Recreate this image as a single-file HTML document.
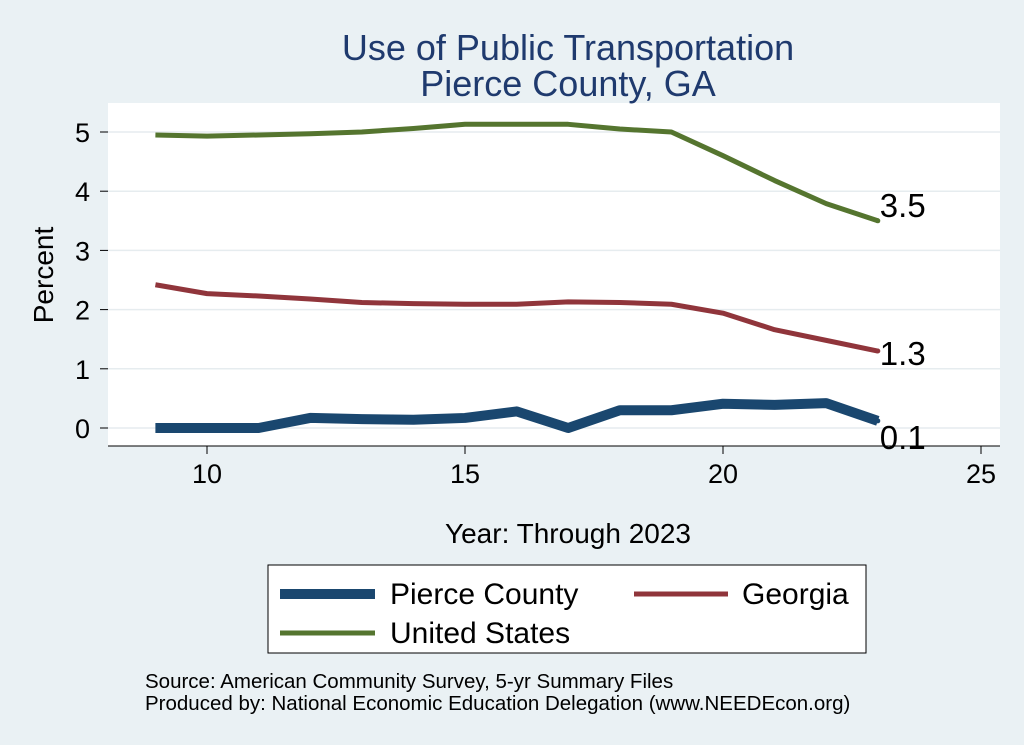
<!DOCTYPE html>
<html><head><meta charset="utf-8"><style>
body{margin:0;background:#eaf1f4;}
svg{display:block;font-family:"Liberation Sans",sans-serif;}
</style></head><body>
<svg width="1024" height="745" viewBox="0 0 1024 745">
<rect x="0" y="0" width="1024" height="745" fill="#eaf1f4"/>
<rect x="108" y="103" width="892" height="343" fill="#ffffff"/>
<text x="568" y="60" font-size="36" fill="#1f3a6e" text-anchor="middle">Use of Public Transportation</text>
<text x="568" y="96" font-size="36" fill="#1f3a6e" text-anchor="middle">Pierce County, GA</text>
<g id="grid"></g>
<g id="axes"></g>
<g id="series"></g>
<text x="53" y="275" font-size="28" fill="#000" text-anchor="middle" transform="rotate(-90 53 275)">Percent</text>
<text x="568" y="543" font-size="28" fill="#000" text-anchor="middle">Year: Through 2023</text>
<g>
<rect x="268" y="565" width="598" height="88" fill="#fff" stroke="#000" stroke-width="1"/>
<line x1="280" y1="594" x2="375" y2="594" stroke="#1a476f" stroke-width="10"/>
<text x="390" y="604" font-size="30">Pierce County</text>
<line x1="634" y1="594" x2="728" y2="594" stroke="#90353b" stroke-width="5"/>
<text x="742" y="604" font-size="30">Georgia</text>
<line x1="280" y1="633" x2="375" y2="633" stroke="#55752f" stroke-width="5"/>
<text x="390" y="643" font-size="30">United States</text>
</g>
<text x="145" y="688" font-size="20.5">Source: American Community Survey, 5-yr Summary Files</text>
<text x="145" y="710" font-size="20.5">Produced by: National Economic Education Delegation (www.NEEDEcon.org)</text>
</svg>
<script>
const years=[9,10,11,12,13,14,15,16,17,18,19,20,21,22,23];
const usVals=[4.95,4.93,4.95,4.97,5.0,5.06,5.13,5.13,5.13,5.05,5.0,4.6,4.18,3.79,3.5];
const gaVals=[2.42,2.27,2.23,2.18,2.12,2.10,2.09,2.09,2.13,2.12,2.09,1.94,1.66,1.48,1.3];
const pcVals=[0,0,0,0.17,0.15,0.14,0.17,0.28,0,0.3,0.3,0.41,0.39,0.42,0.12];
const yTicks=[0,1,2,3,4,5];
const xTicks=[10,15,20,25];
const endLabels=["0.1","1.3","3.5"];
const NS="http://www.w3.org/2000/svg";
const X=v=>207+(v-10)*51.6;
const Y=v=>428-v*59.2;
function mk(t,a,p){const e=document.createElementNS(NS,t);for(const k in a)e.setAttribute(k,a[k]);p.appendChild(e);return e;}
const grid=document.getElementById('grid'),axes=document.getElementById('axes'),ser=document.getElementById('series');
yTicks.forEach(t=>{
 const g=mk('line',{x1:108,x2:1000,y1:Y(t),y2:Y(t),stroke:'#e6ecef','stroke-width':1.5},grid);
 
 
 mk('line',{x1:100,x2:108,y1:Y(t),y2:Y(t),stroke:'#000'},axes);
 const tx=mk('text',{x:90,y:Y(t)+10,'font-size':27,'text-anchor':'end'},axes);tx.textContent=t;
 
 
});
mk('line',{x1:108,x2:1000,y1:446,y2:446,stroke:'#000'},axes);
xTicks.forEach(t=>{
 mk('line',{x1:X(t),x2:X(t),y1:446,y2:454,stroke:'#000'},axes);
 const tx=mk('text',{x:X(t),y:483,'font-size':27,'text-anchor':'middle'},axes);tx.textContent=t;
 
 
});
function line(vals,color,w,name){
 const p=mk('polyline',{points:vals.map((v,i)=>X(years[i])+','+Y(v)).join(' '),fill:'none',stroke:color,'stroke-width':w,'stroke-linejoin':'round'},ser);
 
 
}
line(usVals,'#55752f',5,'line-us');
line(gaVals,'#90353b',5,'line-georgia');
line(pcVals,'#1a476f',10,'line-pierce');
[[pcVals,0,'#1a476f'],[gaVals,1,'#90353b'],[usVals,2,'#55752f']].forEach(([vals,i,c])=>{
 const v=vals[vals.length-1],x=X(years[years.length-1]);
 mk('circle',{cx:x,cy:Y(v),r:2.5,fill:c},ser);
 const dy=i==0?28:i==1?14:-4;
 const tx=mk('text',{x:x+2,y:Y(v)+dy,'font-size':33},ser);tx.textContent=endLabels[i];
 
 
});
</script>
</body></html>
